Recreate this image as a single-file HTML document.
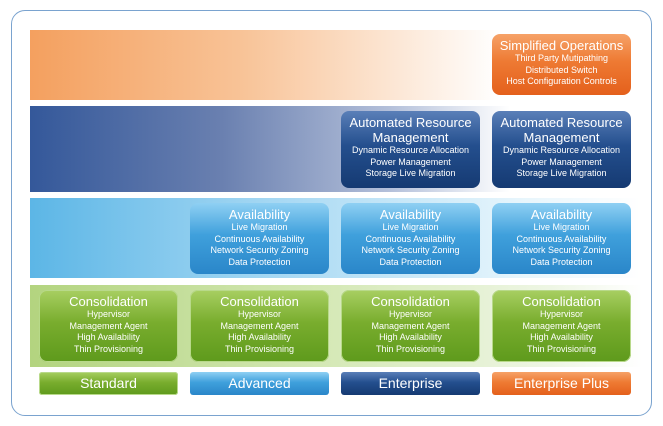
<!DOCTYPE html>
<html><head><meta charset="utf-8"><style>
body{margin:0;width:663px;height:426px;background:#fff;position:relative;overflow:hidden;font-family:"Liberation Sans",sans-serif;}
.frame{position:absolute;left:11px;top:10px;width:639px;height:404px;border:1.5px solid #7aa3cf;border-radius:14px;}
.band{position:absolute;left:30px;}
.box{position:absolute;width:139px;border-radius:8px;color:#fff;text-align:center;box-sizing:border-box;padding-top:4px;}
.box .t{font-size:13px;line-height:15px;}
.box .i{font-size:9px;line-height:11.5px;}
.g{background:linear-gradient(#a8cf62,#79ad2e 45%,#5e9a1c);box-shadow:0 0 0 1px #b8d98a inset;}
.lb{background:linear-gradient(#8fd0f3,#3fa0dc 45%,#2a86c9);}
.db{background:linear-gradient(#5a7fb8,#244f8e 45%,#153a72);}
.or{background:linear-gradient(#f6a268,#ee7a33 45%,#e4601c);}
.lab{position:absolute;width:139px;height:23px;top:372px;border-radius:3px;color:#fff;font-size:14px;line-height:23px;text-align:center;}
</style></head><body>
<div class="frame"></div>
<div class="band" style="top:30px;height:70px;width:470px;background:linear-gradient(90deg,#f4a05f,#f8c397 45%,#fff 100%)"></div>
<div class="band" style="top:106px;height:86px;width:480px;background:linear-gradient(90deg,#34589a,#6a80b0 40%,#b4c0da 75%,#fff 100%)"></div>
<div class="band" style="top:198px;height:80px;width:610px;background:linear-gradient(90deg,#5cb6e6,#a6d8f3 40%,#e6f5fc 80%,#fff)"></div>
<div class="band" style="top:285px;height:82px;width:612px;background:linear-gradient(90deg,#b3d47f,#d6e9b8 50%,#eef6e4 85%,#fff)"></div>

<div class="box or" style="left:492px;top:34px;height:61px"><div class="t">Simplified Operations</div><div class="i">Third Party Mutipathing<br>Distributed Switch<br>Host Configuration Controls</div></div>

<div class="box db" style="left:341px;top:111px;height:77px"><div class="t">Automated Resource<br>Management</div><div class="i">Dynamic Resource Allocation<br>Power Management<br>Storage Live Migration</div></div>
<div class="box db" style="left:492px;top:111px;height:77px"><div class="t">Automated Resource<br>Management</div><div class="i">Dynamic Resource Allocation<br>Power Management<br>Storage Live Migration</div></div>

<div class="box lb" style="left:190px;top:203px;height:71px"><div class="t">Availability</div><div class="i">Live Migration<br>Continuous Availability<br>Network Security Zoning<br>Data Protection</div></div>
<div class="box lb" style="left:341px;top:203px;height:71px"><div class="t">Availability</div><div class="i">Live Migration<br>Continuous Availability<br>Network Security Zoning<br>Data Protection</div></div>
<div class="box lb" style="left:492px;top:203px;height:71px"><div class="t">Availability</div><div class="i">Live Migration<br>Continuous Availability<br>Network Security Zoning<br>Data Protection</div></div>

<div class="box g" style="left:39px;top:290px;height:72px"><div class="t">Consolidation</div><div class="i">Hypervisor<br>Management Agent<br>High Availability<br>Thin Provisioning</div></div>
<div class="box g" style="left:190px;top:290px;height:72px"><div class="t">Consolidation</div><div class="i">Hypervisor<br>Management Agent<br>High Availability<br>Thin Provisioning</div></div>
<div class="box g" style="left:341px;top:290px;height:72px"><div class="t">Consolidation</div><div class="i">Hypervisor<br>Management Agent<br>High Availability<br>Thin Provisioning</div></div>
<div class="box g" style="left:492px;top:290px;height:72px"><div class="t">Consolidation</div><div class="i">Hypervisor<br>Management Agent<br>High Availability<br>Thin Provisioning</div></div>

<div class="lab g" style="left:39px">Standard</div>
<div class="lab lb" style="left:190px">Advanced</div>
<div class="lab db" style="left:341px">Enterprise</div>
<div class="lab or" style="left:492px">Enterprise Plus</div>
</body></html>
